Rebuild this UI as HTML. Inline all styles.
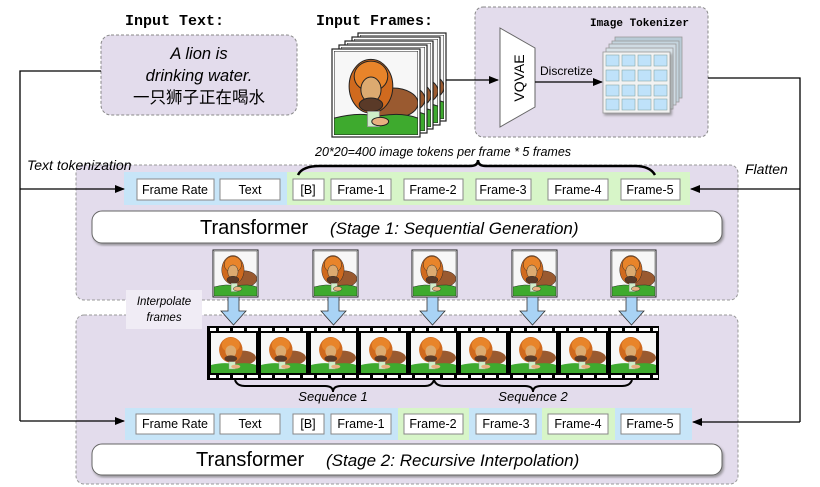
<!DOCTYPE html>
<html><head><meta charset="utf-8"><style>
body{margin:0;background:#fff}
svg{display:block}
text{font-family:"Liberation Sans","Noto Sans CJK SC",sans-serif}
.mono{font-family:"Liberation Mono",monospace;font-weight:bold}
.it{font-style:italic}
</style></head><body>
<svg width="820" height="487" viewBox="0 0 820 487" xmlns="http://www.w3.org/2000/svg">
<defs>
<symbol id="lion" viewBox="0 0 100 100" preserveAspectRatio="none">
<rect width="100" height="100" fill="#f7f7f7"/>
<ellipse cx="70" cy="62" rx="30" ry="18" fill="#9a5a30"/>
<ellipse cx="44" cy="42" rx="26" ry="32" fill="#d06a1e"/>
<ellipse cx="44" cy="30" rx="20" ry="18" fill="#e8842a"/>
<ellipse cx="44" cy="46" rx="12" ry="15" fill="#dcaa70"/>
<ellipse cx="44" cy="64" rx="14" ry="8" fill="#5a3a28"/>
<path d="M0 80 Q30 72 50 78 Q80 72 100 80 L100 100 L0 100Z" fill="#3eaa2e"/>
<rect x="40" y="72" width="14" height="18" fill="#cfeec8" stroke="#999" stroke-width="1"/>
<ellipse cx="55" cy="84" rx="10" ry="5" fill="#e8b080"/>
</symbol>
<marker id="ah" markerWidth="10" markerHeight="8" refX="9" refY="4" orient="auto" markerUnits="userSpaceOnUse"><path d="M0 0L10 4L0 8Z" fill="#000"/></marker>
<filter id="sh"><feDropShadow dx="1.5" dy="2" stdDeviation="1.2" flood-color="#777" flood-opacity="0.7"/></filter>
</defs>

<text x="125" y="25" class="mono" font-size="15">Input Text:</text>
<text x="316" y="25" class="mono" font-size="15">Input Frames:</text>

<rect x="101" y="35" width="196" height="80" rx="10" fill="#e3dcec" stroke="#888" stroke-dasharray="3,2"/>
<text x="199" y="59" font-size="16.5" class="it" text-anchor="middle">A lion is</text>
<text x="199" y="81" font-size="16.5" class="it" text-anchor="middle">drinking water.</text>
<text x="199" y="103" font-size="16.5" text-anchor="middle">一只狮子正在喝水</text>

<rect x="475" y="7" width="233" height="130" rx="8" fill="#e3dcec" stroke="#888" stroke-dasharray="3,2"/>
<text x="689" y="26" class="mono" font-size="11" text-anchor="end">Image Tokenizer</text>
<path d="M500 28 L535 48 L535 107 L500 127Z" fill="#fff" stroke="#666"/>
<text transform="translate(524,78) rotate(-90)" font-size="14" text-anchor="middle">VQVAE</text>
<text x="540" y="75" font-size="12">Discretize</text>
<line x1="535" y1="82" x2="602" y2="82" stroke="#000" stroke-width="1.3" marker-end="url(#ah)"/>
<g stroke="#999" stroke-width="0.8">
<rect x="615" y="37" width="67" height="61" fill="#b9cbd6"/>
<rect x="612" y="41" width="67" height="61" fill="#c4d4de"/>
<rect x="609" y="44" width="67" height="61" fill="#cfdbe3"/>
<rect x="606" y="48" width="67" height="61" fill="#d8e2e8"/>
<rect x="603" y="52" width="67" height="61" fill="#f2f2f2" filter="url(#sh)"/>
</g>
<g fill="#bfe2fa" stroke="#8aa" stroke-width="0.6">
<rect x="606" y="55" width="13" height="11"/><rect x="622" y="55" width="13" height="11"/><rect x="638" y="55" width="13" height="11"/><rect x="654" y="55" width="13" height="11"/>
<rect x="606" y="70" width="13" height="11"/><rect x="622" y="70" width="13" height="11"/><rect x="638" y="70" width="13" height="11"/><rect x="654" y="70" width="13" height="11"/>
<rect x="606" y="85" width="13" height="11"/><rect x="622" y="85" width="13" height="11"/><rect x="638" y="85" width="13" height="11"/><rect x="654" y="85" width="13" height="11"/>
<rect x="606" y="99" width="13" height="11"/><rect x="622" y="99" width="13" height="11"/><rect x="638" y="99" width="13" height="11"/><rect x="654" y="99" width="13" height="11"/>
</g>

<g stroke="#222" stroke-width="1.2">
<rect x="358" y="33" width="88" height="88" fill="#fff"/><use href="#lion" x="360" y="35" width="84" height="84"/>
<rect x="352" y="37" width="88" height="88" fill="#fff"/><use href="#lion" x="354" y="39" width="84" height="84"/>
<rect x="345" y="41" width="88" height="88" fill="#fff"/><use href="#lion" x="347" y="43" width="84" height="84"/>
<rect x="339" y="45" width="88" height="88" fill="#fff"/><use href="#lion" x="341" y="47" width="84" height="84"/>
<rect x="332" y="49" width="88" height="88" fill="#fff"/><use href="#lion" x="334" y="51" width="84" height="84"/>
</g>
<line x1="446" y1="80" x2="498" y2="80" stroke="#000" stroke-width="1.3" marker-end="url(#ah)"/>

<text x="315" y="156" font-size="12.5" class="it">20*20=400 image tokens per frame  *  5 frames</text>

<!-- stage 1 box -->
<rect x="76" y="165" width="662" height="135" rx="8" fill="#e3dcec" stroke="#999" stroke-dasharray="3,2"/>
<rect x="124" y="172" width="163" height="33" fill="#c7e5f8"/>
<rect x="287" y="172" width="403" height="33" fill="#d7f5c8"/>
<path d="M298 175 Q302 166 320 166 L470 166 Q478 166 478 160 Q478 166 486 166 L635 166 Q650 166 655 175" fill="none" stroke="#000" stroke-width="2.5"/>
<g fill="#fff" stroke="#888" stroke-width="1">
<rect x="137" y="179" width="77" height="21"/><rect x="220" y="179" width="60" height="21"/>
<rect x="293" y="179" width="31" height="21"/><rect x="331" y="179" width="60" height="21"/>
<rect x="404" y="179" width="59" height="21"/><rect x="476" y="179" width="55" height="21"/>
<rect x="548" y="179" width="60" height="21"/><rect x="621" y="179" width="59" height="21"/>
</g>
<g font-size="12.5" text-anchor="middle">
<text x="175" y="194">Frame Rate</text><text x="250" y="194">Text</text>
<text x="308" y="194">[B]</text><text x="361" y="194">Frame-1</text>
<text x="433" y="194">Frame-2</text><text x="503" y="194">Frame-3</text>
<text x="578" y="194">Frame-4</text><text x="650" y="194">Frame-5</text>
</g>
<rect x="92" y="211" width="630" height="32" rx="10" fill="#fff" stroke="#666" filter="url(#sh)"/>
<text x="200" y="234" font-size="20">Transformer</text>
<text x="330" y="234" font-size="17" class="it">(Stage 1: Sequential Generation)</text>

<!-- stage 2 box -->
<rect x="76" y="315" width="662" height="169" rx="8" fill="#e3dcec" stroke="#999" stroke-dasharray="3,2"/>
<rect x="126" y="290" width="76" height="39" fill="#f0ecf5"/>
<text x="164" y="305" font-size="11.5" class="it" text-anchor="middle">Interpolate</text>
<text x="164" y="321" font-size="11.5" class="it" text-anchor="middle">frames</text>

<g stroke="#222" stroke-width="1">
<rect x="213" y="250" width="45" height="47" fill="#fff"/><use href="#lion" x="214" y="251" width="43" height="45"/>
<rect x="313" y="250" width="45" height="47" fill="#fff"/><use href="#lion" x="314" y="251" width="43" height="45"/>
<rect x="412" y="250" width="45" height="47" fill="#fff"/><use href="#lion" x="413" y="251" width="43" height="45"/>
<rect x="512" y="250" width="45" height="47" fill="#fff"/><use href="#lion" x="513" y="251" width="43" height="45"/>
<rect x="611" y="250" width="45" height="47" fill="#fff"/><use href="#lion" x="612" y="251" width="43" height="45"/>
</g>
<g fill="#a9d3f5" stroke="#333" stroke-width="0.8">
<path d="M228 297h11v14h7l-12.5 14l-12.5-14h7z"/>
<path d="M328 297h11v14h7l-12.5 14l-12.5-14h7z"/>
<path d="M427 297h11v14h7l-12.5 14l-12.5-14h7z"/>
<path d="M527 297h11v14h7l-12.5 14l-12.5-14h7z"/>
<path d="M626 297h11v14h7l-12.5 14l-12.5-14h7z"/>
</g>

<rect x="207" y="326" width="452" height="54" fill="#000"/>
<rect x="210" y="328" width="448" height="3" fill="#fff"/>
<rect x="210" y="375" width="448" height="3" fill="#fff"/>
<g stroke="#000" stroke-width="3" stroke-dasharray="3,11">
<line x1="216" y1="329.5" x2="660" y2="329.5"/>
<line x1="216" y1="376.5" x2="660" y2="376.5"/>
</g>
<use href="#lion" x="211" y="333" width="45" height="40"/>
<use href="#lion" x="261" y="333" width="45" height="40"/>
<use href="#lion" x="311" y="333" width="45" height="40"/>
<use href="#lion" x="361" y="333" width="45" height="40"/>
<use href="#lion" x="411" y="333" width="45" height="40"/>
<use href="#lion" x="461" y="333" width="45" height="40"/>
<use href="#lion" x="511" y="333" width="45" height="40"/>
<use href="#lion" x="561" y="333" width="45" height="40"/>
<use href="#lion" x="611" y="333" width="45" height="40"/>

<path d="M235 380 Q237 386 245 386 L325 386 Q333 386 333 392 Q333 386 341 386 L425 386 Q432 386 434 380" fill="none" stroke="#000" stroke-width="2"/>
<path d="M434 380 Q436 386 444 386 L525 386 Q533 386 533 392 Q533 386 541 386 L622 386 Q630 386 632 380" fill="none" stroke="#000" stroke-width="2"/>
<text x="333" y="401" font-size="13" class="it" text-anchor="middle">Sequence 1</text>
<text x="533" y="401" font-size="13" class="it" text-anchor="middle">Sequence 2</text>

<rect x="125" y="408" width="567" height="32" fill="#c7e5f8"/>
<rect x="398" y="408" width="71" height="32" fill="#d7f5c8"/>
<rect x="542" y="408" width="73" height="32" fill="#d7f5c8"/>
<g fill="#fff" stroke="#888" stroke-width="1">
<rect x="136" y="414" width="78" height="20"/><rect x="220" y="414" width="60" height="20"/>
<rect x="293" y="414" width="31" height="20"/><rect x="331" y="414" width="60" height="20"/>
<rect x="404" y="414" width="59" height="20"/><rect x="476" y="414" width="60" height="20"/>
<rect x="548" y="414" width="60" height="20"/><rect x="621" y="414" width="59" height="20"/>
</g>
<g font-size="12.5" text-anchor="middle">
<text x="175" y="428">Frame Rate</text><text x="250" y="428">Text</text>
<text x="308" y="428">[B]</text><text x="361" y="428">Frame-1</text>
<text x="433" y="428">Frame-2</text><text x="506" y="428">Frame-3</text>
<text x="578" y="428">Frame-4</text><text x="650" y="428">Frame-5</text>
</g>
<rect x="92" y="444" width="630" height="31" rx="10" fill="#fff" stroke="#666" filter="url(#sh)"/>
<text x="196" y="466" font-size="20">Transformer</text>
<text x="326" y="466" font-size="17" class="it">(Stage 2: Recursive Interpolation)</text>

<!-- connectors on top -->
<polyline points="101,71 20,71 20,421" fill="none" stroke="#000" stroke-width="1.3"/>
<line x1="20" y1="189" x2="124" y2="189" stroke="#000" stroke-width="1.3" marker-end="url(#ah)"/>
<line x1="20" y1="421" x2="124" y2="421" stroke="#000" stroke-width="1.3" marker-end="url(#ah)"/>
<polyline points="708,78 800,78 800,422" fill="none" stroke="#000" stroke-width="1.3"/>
<line x1="800" y1="189" x2="691" y2="189" stroke="#000" stroke-width="1.3" marker-end="url(#ah)"/>
<line x1="800" y1="422" x2="693" y2="422" stroke="#000" stroke-width="1.3" marker-end="url(#ah)"/>
<text x="745" y="174" font-size="14" class="it">Flatten</text>
<text x="27" y="170" font-size="14" class="it">Text tokenization</text>
</svg>
</body></html>
